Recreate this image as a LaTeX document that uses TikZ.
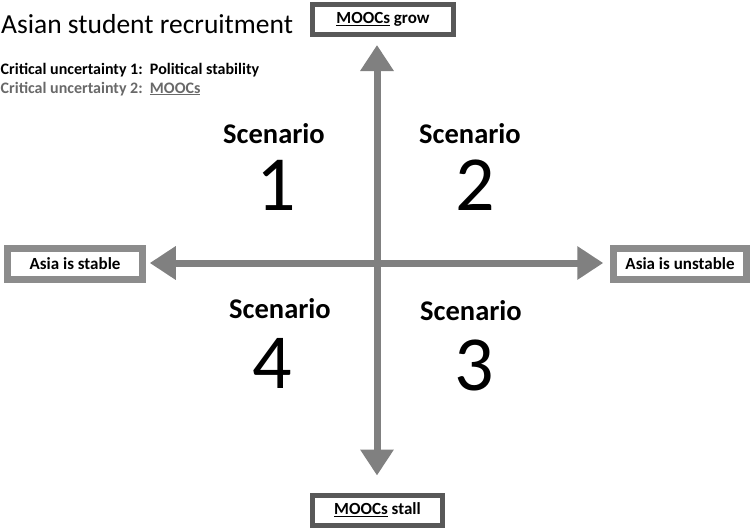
\documentclass[tikz,border=0pt]{standalone}
\usepackage{fontspec}
\setmainfont{Carlito}
\usetikzlibrary{arrows.meta,positioning}
\definecolor{axGray}{RGB}{128,128,128}
\definecolor{boxDark}{RGB}{88,88,88}
\definecolor{boxLight}{RGB}{140,140,140}
\definecolor{noteGray}{RGB}{105,105,105}

\begin{document}
\begin{tikzpicture}[x=1pt,y=-1pt,
  V/.style={draw=boxDark,line width=5pt,fill=white,inner sep=2pt,
            font=\fontsize{17}{19}\selectfont\bfseries,minimum height=30pt},
  H/.style={draw=boxLight,line width=6.5pt,fill=white,inner sep=2pt,
            font=\fontsize{17}{19}\selectfont\bfseries,minimum height=31pt},
  sc/.style={anchor=base,inner sep=0pt,font=\fontsize{28.5}{30}\selectfont\bfseries},
  num/.style={anchor=base,inner sep=0pt,font=\fontsize{78}{80}\selectfont},
  axis/.style={draw=axGray,line width=7pt,
               {Triangle[length=26pt,width=32pt]}-{Triangle[length=26pt,width=32pt]}}]

\useasboundingbox (0,0) rectangle (753,531);

% heading
\node[anchor=base west,inner sep=0pt,font=\fontsize{27.5}{30}\selectfont]
   (title) at (1,33) {Asian student recruitment};
\node[anchor=base west,inner sep=0pt,font=\fontsize{16}{18}\selectfont\bfseries]
   (cu1) at (0.5,74) {Critical uncertainty 1:\ \ Political stability};
\node[anchor=base west,inner sep=0pt,font=\fontsize{16}{18}\selectfont\bfseries,
      text=noteGray]
   (cu2) at (0.5,93) {Critical uncertainty 2:\ \ \underline{MOOCs}};

% end boxes of the two axes
\node[V,minimum width=141pt] (grow)     at (383,19.5)  {\underline{MOOCs} grow};
\node[V,minimum width=130pt] (stall)    at (377.5,510) {\underline{MOOCs} stall};
\node[H,minimum width=135pt] (stable)   at (75,264)    {Asia is stable};
\node[H,minimum width=133pt] (unstable) at (680,264)   {Asia is unstable};

\coordinate (o) at (377,263);
\draw[axis,shorten <=4pt,shorten >=7pt] (stable.east |- o) -- (unstable.west |- o);
\draw[axis,shorten <=8pt,shorten >=17pt] (grow.south -| o) -- (stall.north -| o);

% quadrants
\node[sc]  (s1) at (274,143) {Scenario};
\node[num] (n1) at (276,210) {1};
\node[sc]  (s2) at (470,143) {Scenario};
\node[num] (n2) at (475,210) {2};
\node[sc]  (s3) at (471,320) {Scenario};
\node[num] (n3) at (474,390) {3};
\node[sc]  (s4) at (280,318) {Scenario};
\node[num] (n4) at (272,388) {4};
\end{tikzpicture}
\end{document}
